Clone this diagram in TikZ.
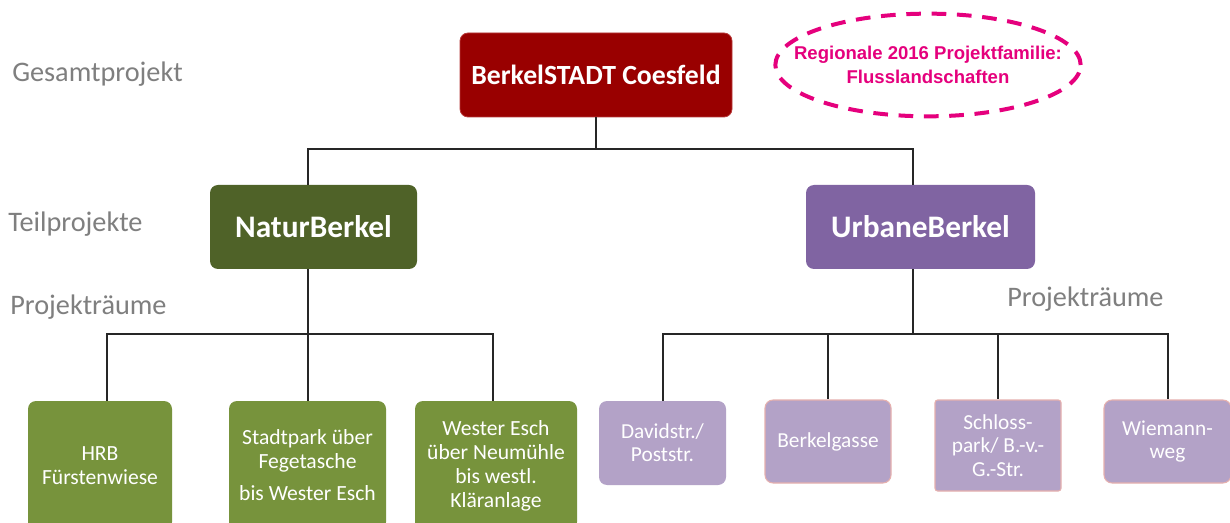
\documentclass[tikz,border=0pt]{standalone}
\usepackage{fontspec}
\setmainfont{Carlito}
\newfontfamily\arialfont{Liberation Sans}
\definecolor{topred}{HTML}{990000}
\definecolor{topredline}{HTML}{B83A3A}
\definecolor{naturgreen}{HTML}{4F6228}
\definecolor{urbanpurple}{HTML}{8064A2}
\definecolor{leafgreen}{HTML}{77933C}
\definecolor{lilac}{HTML}{B3A2C7}
\definecolor{pinkline}{HTML}{E6B0AE}
\definecolor{labelgray}{HTML}{7F7F7F}
\definecolor{magentaline}{HTML}{E5007D}
\tikzset{
  boxbase/.style={rounded corners=6pt, inner sep=0pt, align=center, text=white},
  toptier/.style={boxbase, fill=topred, draw=topredline, line width=0.6pt,
     font=\fontsize{20.8}{24}\selectfont\bfseries},
  midtier/.style={boxbase, font=\fontsize{23.5}{27}\selectfont\bfseries},
  greenleaf/.style={boxbase, fill=leafgreen, font=\fontsize{16.2}{18}\selectfont},
  lilacleaf/.style={boxbase, fill=lilac, font=\fontsize{16}{17.5}\selectfont},
  conn/.style={line width=1.1pt, draw=black!85},
  graylabel/.style={anchor=base west, inner sep=0pt, text=labelgray,
     font=\fontsize{21.2}{24}\selectfont},
  ellipsetext/.style={inner sep=0pt, text=magentaline, align=center,
     font=\arialfont\bfseries\fontsize{13.9}{17.5}\selectfont},
  dashring/.style={draw=magentaline, line width=3pt, dash pattern=on 11pt off 8pt},
}
\begin{document}
\begin{tikzpicture}[x=0.75pt,y=-0.75pt]
\useasboundingbox (0,0) rectangle (1230,523);
\fill[white] (0,0) rectangle (1230,523);

% labels
\node[graylabel] (lgesamt) at (12,82) {Gesamtprojekt};
\node[graylabel] (lteil) at (8,232) {Teilprojekte};
\node[graylabel] (lraum1) at (10,315) {Projekträume};
\node[graylabel] (lraum2) at (1007,307) {Projekträume};

% top box
\node[toptier, minimum width=272*0.75pt, minimum height=84*0.75pt] (top) at (596,75) {BerkelSTADT Coesfeld};

% ellipse
\node[ellipsetext] (regio) at (928,65) {Regionale 2016 Projektfamilie:\\Flusslandschaften};
\draw[dashring] (regio.center) ellipse [x radius=114.5pt, y radius=38.5pt];

% middle tier
\node[midtier, fill=naturgreen, minimum width=207*0.75pt, minimum height=84*0.75pt] (natur) at (313.5,227) {NaturBerkel};
\node[midtier, fill=urbanpurple, minimum width=229*0.75pt, minimum height=84*0.75pt] (urbane) at (920.5,227) {UrbaneBerkel};

% green leaves
\node[greenleaf, minimum width=144*0.75pt, minimum height=129*0.75pt] (hrb) at (100,465.5) {HRB\\Fürstenwiese};
\node[greenleaf, minimum width=157*0.75pt, minimum height=129*0.75pt] (stadt) at (307.5,465.5) {Stadtpark über\\Fegetasche\\[6pt]bis Wester Esch};
\node[greenleaf, minimum width=162*0.75pt, minimum height=129*0.75pt] (wester) at (496,465.5) {Wester Esch\\über Neumühle\\bis westl.\\Kläranlage};

% lilac leaves
\node[lilacleaf, minimum width=127*0.75pt, minimum height=84*0.75pt] (david) at (662.5,443) {Davidstr./\\Poststr.};
\node[lilacleaf, draw=pinkline, line width=0.8pt, minimum width=126*0.75pt, minimum height=83*0.75pt] (gasse) at (828,441.5) {Berkelgasse};
\node[lilacleaf, draw=pinkline, line width=0.8pt, rounded corners=2pt, minimum width=126*0.75pt, minimum height=91*0.75pt] (schloss) at (998,445.5) {Schloss-\\park/ B.-v.-\\G.-Str.};
\node[lilacleaf, draw=pinkline, line width=0.8pt, minimum width=127*0.75pt, minimum height=83*0.75pt] (wiemann) at (1167.5,441.5) {Wiemann-\\weg};

% connector coordinates
\coordinate (busA) at (596,149);
\coordinate (nx) at (308,0);
\coordinate (ux) at (913,0);
\coordinate (busB) at (308,334);
\coordinate (busC) at (913,334);
\coordinate (hx) at (107,0);
\coordinate (wx) at (493,0);
\coordinate (dx) at (663,0);
\coordinate (wix) at (1168,0);

% connectors
\draw[conn] (top.south) -- (busA);
\draw[conn] (nx |- natur.north) |- (busA) -| (ux |- urbane.north);
\draw[conn] (nx |- natur.south) -- (busB);
\draw[conn] (hx |- hrb.north) |- (busB) -| (wx |- wester.north);
\draw[conn] (busB) -- (nx |- stadt.north);
\draw[conn] (ux |- urbane.south) -- (busC);
\draw[conn] (dx |- david.north) |- (busC) -| (wix |- wiemann.north);
\draw[conn] (gasse.north |- busC) -- (gasse.north);
\draw[conn] (schloss.north |- busC) -- (schloss.north);
\end{tikzpicture}
\end{document}
